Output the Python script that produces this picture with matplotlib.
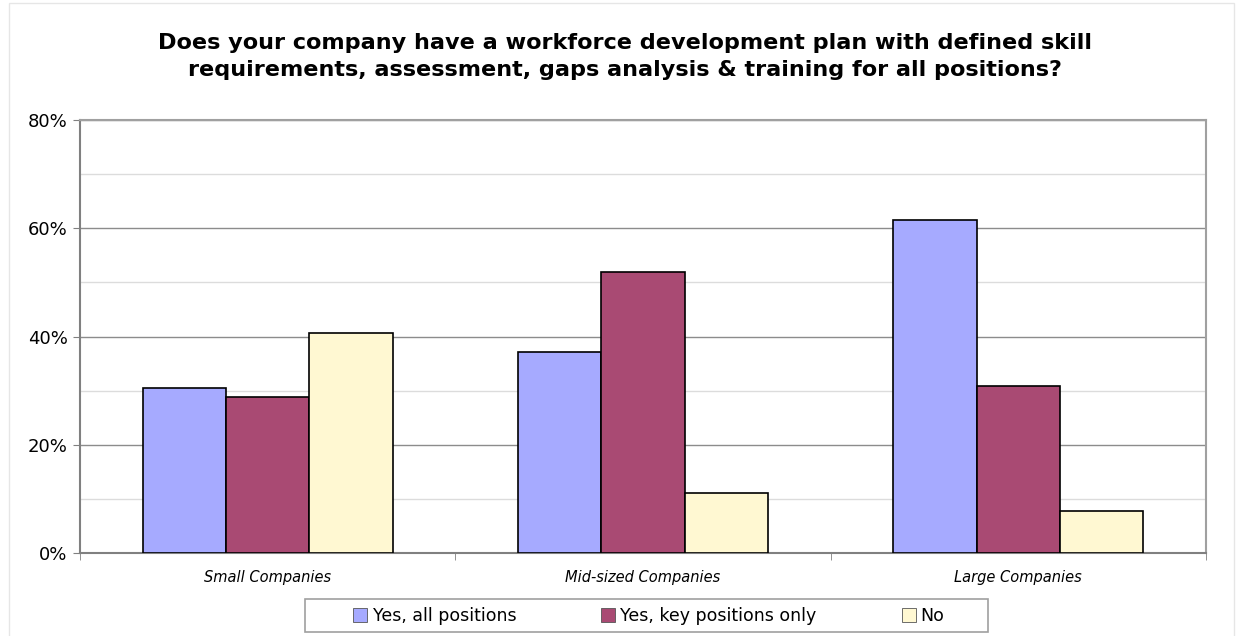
import numpy as np
import matplotlib.pyplot as plt
from matplotlib.patches import Rectangle

categories = ['Small Companies', 'Mid-sized Companies', 'Large Companies']
series = ['Yes, all positions', 'Yes, key positions only', 'No']
yes_all = [30.5, 37.2, 61.6]
yes_key = [28.8, 51.9, 30.8]
no = [40.7, 11.1, 7.8]
colors = ['#A6AAFF', '#A94A73', '#FFF8D2']

fig = plt.figure(figsize=(12.38, 6.36), dpi=100)
fig.patches.append(Rectangle((0.007, -0.01), 0.99, 1.005, transform=fig.transFigure,
                             fill=False, edgecolor='#e6e6e6', lw=1))
ax = fig.add_axes([0.0646, 0.1305, 0.9094, 0.6808])

x = np.arange(len(categories))
w = 0.222
for i, (vals, lab) in enumerate(zip([yes_all, yes_key, no], series)):
    ax.bar(x + (i - 1) * w, vals, w, color=colors[i], edgecolor='black', lw=1.2,
           label=lab, zorder=3)

ax.set_xlim(-0.5, 2.5)
ax.set_ylim(0, 80)
ax.set_yticks([0, 20, 40, 60, 80])
ax.set_yticklabels([f'{v}%' for v in [0, 20, 40, 60, 80]], fontsize=13)
ax.set_yticks([10, 30, 50, 70], minor=True)
ax.tick_params(axis='y', which='minor', length=0)
ax.tick_params(axis='y', which='major', length=5, color='#808080', pad=4)
ax.grid(axis='y', which='major', color='#8c8c8c', lw=1, zorder=0)
ax.grid(axis='y', which='minor', color='#dcdcdc', lw=1, zorder=0)

ax.set_xticks(x)
ax.set_xticklabels(categories, fontsize=10.5, style='italic')
ax.tick_params(axis='x', which='major', length=0, pad=12)
ax.set_xticks([-0.5, 0.5, 1.5, 2.5], minor=True)
ax.tick_params(axis='x', which='minor', length=5, color='#808080')

for s in ['left', 'bottom']:
    ax.spines[s].set_color('#808080')
    ax.spines[s].set_linewidth(1.5)
for s in ['top', 'right']:
    ax.spines[s].set_color('#a0a0a0')
    ax.spines[s].set_linewidth(1.5)

fig.text(0.505, 0.948, 'Does your company have a workforce development plan with defined skill\n'
         'requirements, assessment, gaps analysis & training for all positions?',
         fontsize=16.1, fontweight='bold', ha='center', va='top', linespacing=1.42)

# legend box drawn separately so its padding can be wider than the entries
fig.patches.append(Rectangle((305 / 1238, 4 / 636), 683 / 1238, 33 / 636,
                             transform=fig.transFigure, fill=False,
                             edgecolor='#a0a0a0', lw=1.2))
leg = fig.legend(loc='center', bbox_to_anchor=(649 / 1238, 20 / 636), ncol=3, fontsize=12.5,
                 frameon=False, handlelength=0.8, handleheight=0.8, columnspacing=4.9,
                 handletextpad=0.3, borderpad=0.2)
for h in leg.legend_handles:
    h.set_linewidth(0.6)
    h.set_edgecolor('#555555')

fig.savefig('out.png')
